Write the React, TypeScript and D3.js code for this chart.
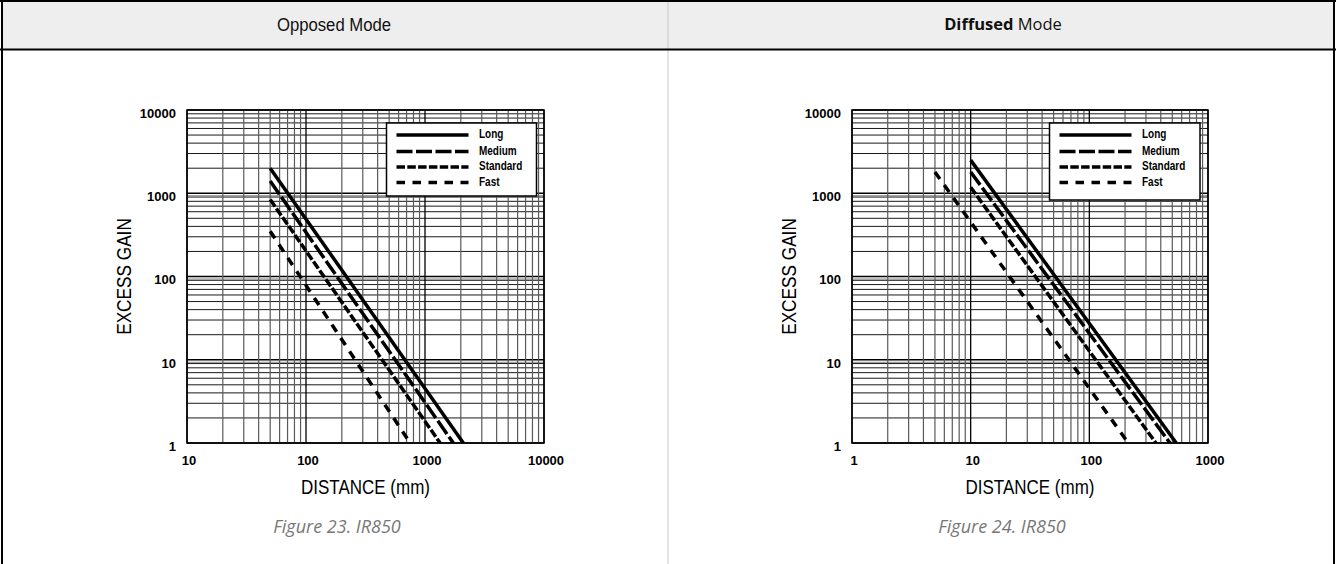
import React from "react";
import * as d3 from "d3";

const W = 1336;
const H = 564;

const seriesNames = ["Long", "Medium", "Standard", "Fast"];
const seriesDash = ["", "16 3.5", "8.5 2.3", "8.5 7.5"];

// Opposed mode: [distance (mm), excess gain] endpoints
const opposedLong = [[50, 2000], [2100, 1]];
const opposedMedium = [[50, 1400], [1730, 1]];
const opposedStandard = [[50, 840], [1340, 1]];
const opposedFast = [[50, 350], [750, 1]];

// Diffused mode
const diffusedLong = [[10, 2500], [540, 1]];
const diffusedMedium = [[10, 1800], [478, 1]];
const diffusedStandard = [[10, 1180], [364, 1]];
const diffusedFast = [[5, 1800], [213, 1]];

const opposedXTicks = [10, 100, 1000, 10000];
const diffusedXTicks = [1, 10, 100, 1000];
const yTicks = [1, 10, 100, 1000, 10000];

const sans = "'Liberation Sans', Arial, sans-serif";
const humanist = "'Open Sans', 'Noto Sans', sans-serif";

function NText(props: {
  x: number; y: number; size: number; sx: number; rotate?: number; bold?: boolean;
  anchor?: string; children: React.ReactNode; fill?: string;
}) {
  const { x, y, size, sx, rotate, bold, anchor, children, fill } = props;
  return (
    <text
      transform={`translate(${x},${y})${rotate ? ` rotate(${rotate})` : ""} scale(${sx},1)`}
      textAnchor={anchor || "start"} dominantBaseline="middle" fontFamily={sans}
      fontWeight={bold ? "bold" : "normal"} fontSize={size} fill={fill || "#000"}>
      {children}
    </text>
  );
}

function minorTicks(lo: number, hi: number) {
  const out: number[] = [];
  for (let d = lo; d < hi; d *= 10) {
    for (let k = 1; k <= 9; k++) out.push(d * k);
  }
  out.push(hi);
  return out;
}

function Chart(props: {
  left: number; right: number; top: number; bottom: number;
  xDomain: [number, number]; xTicks: number[]; series: number[][][];
  legend: { x0: number; x1: number; y0: number; y1: number };
  id: string;
}) {
  const { left, right, top, bottom, xDomain, xTicks, series, legend, id } = props;
  const x = d3.scaleLog().domain(xDomain).range([left, right]);
  const y = d3.scaleLog().domain([1, 10000]).range([bottom, top]);
  const line = d3.line<number[]>().x((d) => x(d[0])).y((d) => y(d[1]));
  const xs = minorTicks(xDomain[0], xDomain[1]);
  const ys = minorTicks(1, 10000);
  const isMajor = (v: number) => Math.abs(Math.log10(v) - Math.round(Math.log10(v))) < 1e-9;
  const rowY = [12, 28.5, 44, 59.5];
  return (
    <g>
      <defs>
        <clipPath id={id}>
          <rect x={left} y={top} width={right - left} height={bottom - top} />
        </clipPath>
      </defs>
      <rect x={left} y={top} width={right - left} height={bottom - top} fill="#fff" />
      {ys.map((v, i) => (
        <line key={"h" + i} x1={left} x2={right} y1={y(v)} y2={y(v)}
          stroke={isMajor(v) ? "#000" : "#1a1a1a"} strokeWidth={isMajor(v) ? 1.3 : 1} />
      ))}
      {ys.filter(isMajor).filter((v) => v > 1 && v < 10000).map((v, i) => (
        <line key={"hh" + i} x1={left} x2={right} y1={y(v) + 2.5} y2={y(v) + 2.5}
          stroke="#666" strokeWidth={0.8} />
      ))}
      {xs.map((v, i) => (
        <line key={"v" + i} x1={x(v)} x2={x(v)} y1={top} y2={bottom}
          stroke={isMajor(v) ? "#000" : "#5a5a5a"} strokeWidth={isMajor(v) ? 1.3 : 1.2} />
      ))}
      <rect x={left} y={top} width={right - left} height={bottom - top} fill="none" stroke="#000" strokeWidth={1.5} />
      <g clipPath={`url(#${id})`}>
        {series.map((s, i) => (
          <path key={"s" + i} d={line(s) || ""} fill="none" stroke="#000" strokeWidth={3.5}
            strokeDasharray={seriesDash[i] || undefined} />
        ))}
      </g>
      <rect x={legend.x0} y={legend.y0} width={legend.x1 - legend.x0} height={legend.y1 - legend.y0}
        fill="#fff" stroke="#000" strokeWidth={1.5} />
      {seriesNames.map((n, i) => {
        const yy = legend.y0 + rowY[i];
        return (
          <g key={"l" + i}>
            <line x1={legend.x0 + 10} x2={legend.x0 + 82} y1={yy} y2={yy} stroke="#000" strokeWidth={3.5}
              strokeDasharray={seriesDash[i] || undefined} />
            <NText x={legend.x0 + 92.5} y={yy} size={12.5} sx={0.8} bold>{n}</NText>
          </g>
        );
      })}
      {yTicks.map((v, i) => (
        <text key={"yt" + i} x={left - 11} y={y(v) + 4.5} textAnchor="end" dominantBaseline="middle"
          fontFamily={sans} fontWeight="bold" fontSize={13} fill="#000">{v}</text>
      ))}
      {xTicks.map((v, i) => (
        <text key={"xt" + i} x={x(v) + 2} y={bottom + 19} textAnchor="middle" dominantBaseline="middle"
          fontFamily={sans} fontWeight="bold" fontSize={13} fill="#000">{v}</text>
      ))}
      <NText x={(left + right) / 2} y={bottom + 46} size={20} sx={0.85} anchor="middle">DISTANCE (mm)</NText>
      <NText x={left - 62} y={(top + bottom) / 2} size={21} sx={0.82} rotate={-90} anchor="middle">EXCESS GAIN</NText>
    </g>
  );
}

export default function App() {
  const mid = 668;
  return (
    <svg width={W} height={H} style={{ position: "absolute", left: 0, top: 0, background: "#fff" }}>
      <rect x={0} y={0} width={W} height={H} fill="#fff" />
      <rect x={2} y={1} width={W - 4} height={48} fill="#eeeeee" />
      <line x1={mid} x2={mid} y1={0} y2={H} stroke="#c8c8c8" strokeWidth={1} />
      <line x1={0} x2={W} y1={1} y2={1} stroke="#000" strokeWidth={2} />
      <line x1={0} x2={W} y1={49.5} y2={49.5} stroke="#000" strokeWidth={2} />
      <line x1={2} x2={2} y1={0} y2={H} stroke="#000" strokeWidth={2} />
      <line x1={W - 2} x2={W - 2} y1={0} y2={H} stroke="#000" strokeWidth={2} />
      <NText x={334} y={26} size={19} sx={0.88} anchor="middle" fill="#111">Opposed Mode</NText>
      <text x={1003} y={26} textAnchor="middle" dominantBaseline="middle" fontFamily={humanist} fontSize={16.5} fill="#111">
        <tspan fontWeight="bold">Diffused</tspan> Mode
      </text>
      <Chart id="c1" left={187} right={544} top={110} bottom={443} xDomain={[10, 10000]} xTicks={opposedXTicks}
        series={[opposedLong, opposedMedium, opposedStandard, opposedFast]}
        legend={{ x0: 386.5, x1: 536.5, y0: 123, y1: 196 }} />
      <Chart id="c2" left={852} right={1208} top={110} bottom={443} xDomain={[1, 1000]} xTicks={diffusedXTicks}
        series={[diffusedLong, diffusedMedium, diffusedStandard, diffusedFast]}
        legend={{ x0: 1049.5, x1: 1200, y0: 123, y1: 200 }} />
      <text x={337} y={528} textAnchor="middle" dominantBaseline="middle" fontFamily={humanist}
        fontStyle="italic" fontSize={18} fill="#777">Figure 23. IR850</text>
      <text x={1002} y={528} textAnchor="middle" dominantBaseline="middle" fontFamily={humanist}
        fontStyle="italic" fontSize={18} fill="#777">Figure 24. IR850</text>
    </svg>
  );
}
